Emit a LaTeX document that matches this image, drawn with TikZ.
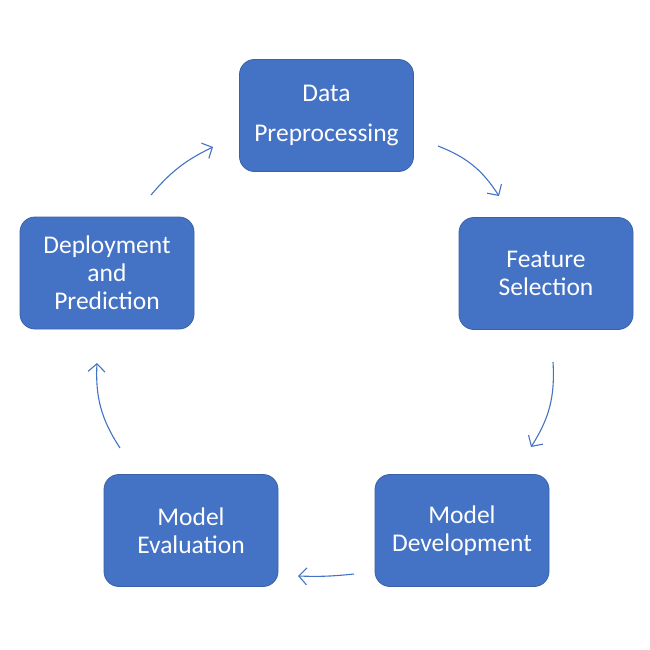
\documentclass[tikz,border=0pt]{standalone}
\usepackage{fontspec}
\setmainfont{Carlito}
\usetikzlibrary{arrows.meta}
\definecolor{boxblue}{HTML}{4472C4}
\tikzset{
  stage/.style={draw=boxblue!85!black, line width=0.8pt, fill=boxblue, rounded corners=15pt,
    minimum width=174pt, minimum height=112pt, text=white, align=center,
    font=\fontsize{25.5}{28}\selectfont, inner sep=2pt},
  flow/.style={draw=boxblue, line width=1.1pt, -{Straight Barb[length=8pt,width=17pt,line width=1.1pt]}}
}
\begin{document}
\begin{tikzpicture}[x=1pt,y=-1pt]
\useasboundingbox (0,0) rectangle (650,650);
\node[stage] (dp) at (326.5,115.5) {Data\\[12pt]Preprocessing};
\node[stage] (fs) at (546,273.5) {Feature\\Selection};
\node[stage] (md) at (462,530.5) {Model\\Development};
\node[stage] (me) at (191,530.5) {Model\\Evaluation};
\node[stage] (de) at (107,273) {Deployment\\and\\Prediction};
\coordinate (a1s) at (438,146); \coordinate (a1e) at (499,196);
\coordinate (a2s) at (553,362); \coordinate (a2e) at (531,447);
\coordinate (a3s) at (354,574); \coordinate (a3e) at (298,576);
\coordinate (a4s) at (120,448); \coordinate (a4e) at (97,363);
\coordinate (a5s) at (151,195); \coordinate (a5e) at (213,147);
\draw[flow] (a1s) to[bend left=18] (a1e);
\draw[flow] (a2s) to[bend left=18] (a2e);
\draw[flow] (a3s) to[bend left=4] (a3e);
\draw[flow] (a4s) to[bend left=18] (a4e);
\draw[flow] (a5s) to[bend left=12] (a5e);
\end{tikzpicture}
\end{document}
